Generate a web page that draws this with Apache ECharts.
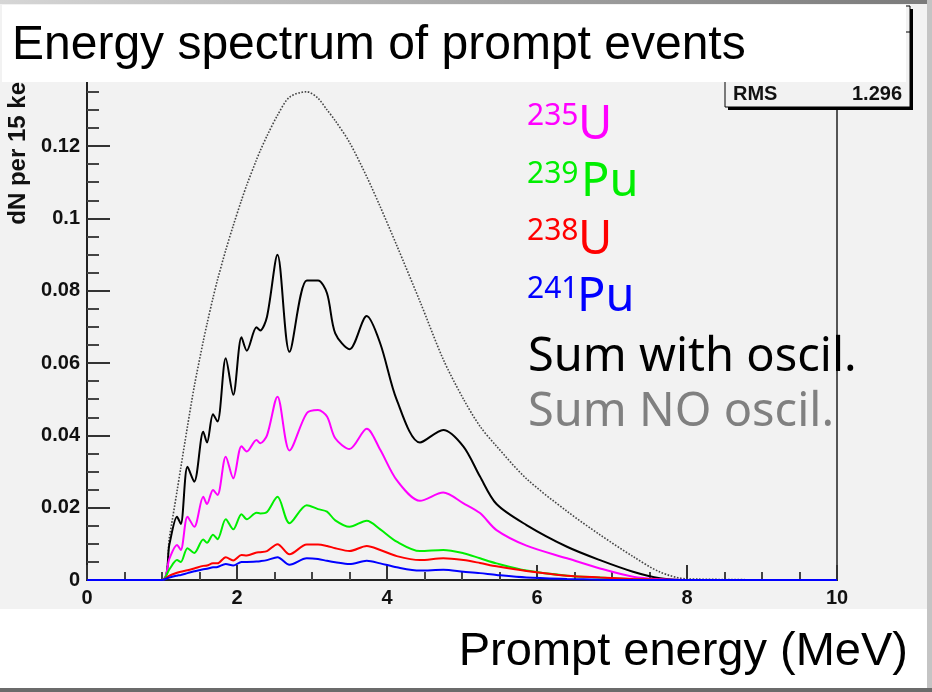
<!DOCTYPE html>
<html>
<head>
<meta charset="utf-8">
<script src="https://cdn.jsdelivr.net/npm/echarts@6/dist/echarts.min.js"></script>
<style>
html,body{margin:0;padding:0;background:#f2f2f2;}
#chart{width:932px;height:692px;}
</style>
</head>
<body>
<div id="chart"></div>
<script>
// Energy grid (MeV)
var energy = [0, 1.0, 1.1, 1.2, 1.25, 1.34, 1.43, 1.55, 1.6, 1.68, 1.74, 1.85, 1.95, 2.06, 2.13, 2.26, 2.31, 2.4, 2.54, 2.7, 2.93, 3.08, 3.2, 3.31, 3.5, 3.73, 3.91, 4.13, 4.44, 4.75, 5.02, 5.24, 5.46, 5.86, 6.4, 6.84, 7.28, 7.64, 8.0, 10];

var sumNoOscil = [0, 0, 0.012, 0.0245, 0.031, 0.0425, 0.0535, 0.066, 0.0708, 0.078, 0.083, 0.0912, 0.098, 0.105, 0.1092, 0.1162, 0.1187, 0.1228, 0.1285, 0.1335, 0.135, 0.1332, 0.130, 0.127, 0.121, 0.1115, 0.1032, 0.0925, 0.077, 0.061, 0.050, 0.0425, 0.037, 0.028, 0.019, 0.0125, 0.0065, 0.0022, 0.0003, 0];

var sumWithOscil = [0, 0, 0.010, 0.0175, 0.0155, 0.0313, 0.0272, 0.041, 0.038, 0.0458, 0.0438, 0.0613, 0.0512, 0.0671, 0.0634, 0.0699, 0.069, 0.0728, 0.0899, 0.0631, 0.0828, 0.0828, 0.0793, 0.0682, 0.0638, 0.073, 0.0654, 0.0498, 0.038, 0.0415, 0.0369, 0.0286, 0.021, 0.0152, 0.0092, 0.0055, 0.0023, 0.0005, 0, 0];

var u235 = [0, 0, 0.006, 0.0097, 0.0083, 0.0175, 0.0147, 0.023, 0.021, 0.0249, 0.0235, 0.0341, 0.0281, 0.037, 0.0355, 0.0387, 0.0378, 0.040, 0.0507, 0.0358, 0.0461, 0.047, 0.0452, 0.0392, 0.0362, 0.0418, 0.036, 0.0276, 0.0219, 0.0242, 0.0212, 0.0185, 0.0138, 0.0095, 0.006, 0.0032, 0.0009, 0.0002, 0, 0];

var pu239 = [0, 0, 0.003, 0.0055, 0.005, 0.0088, 0.0075, 0.0112, 0.0103, 0.0125, 0.0113, 0.0168, 0.014, 0.0182, 0.0168, 0.0186, 0.0184, 0.0188, 0.023, 0.0157, 0.0207, 0.0196, 0.0189, 0.0165, 0.0147, 0.0164, 0.014, 0.0106, 0.008, 0.0083, 0.0074, 0.006, 0.0046, 0.0026, 0.0012, 0.0007, 0.0002, 0, 0, 0];

var u238 = [0, 0, 0.0012, 0.002, 0.0023, 0.0027, 0.0032, 0.0039, 0.004, 0.0046, 0.0046, 0.0063, 0.0054, 0.0069, 0.0068, 0.0076, 0.0077, 0.008, 0.0099, 0.0071, 0.0098, 0.0098, 0.0094, 0.0088, 0.008, 0.0094, 0.0083, 0.0066, 0.0055, 0.006, 0.0055, 0.0047, 0.0038, 0.0025, 0.0012, 0.0007, 0.0003, 0.0001, 0, 0];

var pu241 = [0, 0, 0.0007, 0.0012, 0.0014, 0.0019, 0.0024, 0.003, 0.0031, 0.0035, 0.0036, 0.0044, 0.004, 0.005, 0.005, 0.0051, 0.0052, 0.0055, 0.0063, 0.0042, 0.006, 0.0058, 0.0053, 0.0049, 0.0044, 0.0053, 0.0046, 0.0035, 0.0026, 0.0028, 0.0023, 0.0019, 0.0014, 0.0007, 0.0003, 0.0001, 0, 0, 0, 0];

var xTicks = [0, 2, 4, 6, 8, 10];
var yTicks = [0, 0.02, 0.04, 0.06, 0.08, 0.1, 0.12, 0.14];

function pairs(vals) {
  return energy.map(function (e, i) { return [e, vals[i]]; });
}

var chart = echarts.init(document.getElementById('chart'), null, {renderer: 'canvas'});

var tickFont = {fontFamily: 'Liberation Sans', fontWeight: 'bold', fontSize: 20, color: '#111'};

function lineSeries(name, vals, color, width, type) {
  return {
    name: name, type: 'line', data: pairs(vals), showSymbol: false, smooth: 0.3,
    lineStyle: {color: color, width: width, type: type || 'solid'},
    animation: false
  };
}

var option = {
  backgroundColor: '#f2f2f2',
  animation: false,
  grid: {left: 87, right: 95, top: 73.67, bottom: 112, show: true, borderColor: '#555', borderWidth: 2, backgroundColor: 'transparent'},
  xAxis: {
    type: 'value', min: xTicks[0], max: xTicks[xTicks.length - 1], interval: 2,
    axisLine: {show: true, onZero: false, lineStyle: {color: '#222', width: 2}},
    axisTick: {show: true, inside: true, length: 15, lineStyle: {color: '#333', width: 2}},
    minorTick: {show: true, splitNumber: 4, length: 8, lineStyle: {color: '#444', width: 2}},
    splitLine: {show: false},
    axisLabel: Object.assign({margin: 8}, tickFont)
  },
  yAxis: {
    type: 'value', min: yTicks[0], max: yTicks[yTicks.length - 1], interval: 0.02,
    axisLine: {show: true, lineStyle: {color: '#222', width: 2}},
    axisTick: {show: true, inside: true, length: 23, lineStyle: {color: '#333', width: 2}},
    minorTick: {show: true, splitNumber: 4, length: 12, lineStyle: {color: '#444', width: 2}},
    splitLine: {show: false},
    axisLabel: Object.assign({margin: 7}, tickFont)
  },
  series: [
    lineSeries('Sum NO oscil.', sumNoOscil, '#444', 1.6, 'dotted'),
    lineSeries('Sum with oscil.', sumWithOscil, '#000', 2),
    lineSeries('235U', u235, '#ff00ff', 2),
    lineSeries('239Pu', pu239, '#00ee00', 2),
    lineSeries('238U', u238, '#ff0000', 2),
    lineSeries('241Pu', pu241, '#0000ff', 2)
  ],
  graphic: [
    // stats box shadow + box
    {type: 'rect', z: 100, shape: {x: 728, y: 9, width: 185, height: 101}, style: {fill: '#000'}},
    {type: 'rect', z: 101, shape: {x: 725, y: 6, width: 185, height: 101}, style: {fill: '#f2f2f2', stroke: '#000', lineWidth: 1}},
    {type: 'line', z: 102, shape: {x1: 725, y1: 32, x2: 910, y2: 32}, style: {stroke: '#000', lineWidth: 1}},
    {type: 'text', z: 102, x: 733, y: 94, style: {text: 'RMS', font: 'bold 20px "Liberation Sans"', fill: '#111', verticalAlign: 'middle', align: 'left'}},
    {type: 'text', z: 102, x: 902, y: 94, style: {text: '1.296', font: 'bold 20px "Liberation Sans"', fill: '#111', verticalAlign: 'middle', align: 'right'}},
    // y axis title
    {type: 'text', z: 103, x: 18, y: 66, rotation: Math.PI / 2, style: {text: 'dN per 15 keV', font: 'bold 24px "Liberation Sans"', fill: '#111', verticalAlign: 'middle', align: 'right'}},
    // title box
    {type: 'rect', z: 110, shape: {x: 2, y: 5, width: 904, height: 77}, style: {fill: '#ffffff'}},
    {type: 'text', z: 111, x: 12, y: 46, style: {text: 'Energy spectrum of prompt events', font: '48px "Liberation Sans"', fill: '#000', verticalAlign: 'middle', align: 'left'}},
    // bottom box
    {type: 'rect', z: 110, shape: {x: 0, y: 609, width: 927, height: 79}, style: {fill: '#ffffff'}},
    {type: 'text', z: 111, x: 908, y: 652, style: {text: 'Prompt energy (MeV)', font: '47px "Liberation Sans"', fill: '#000', verticalAlign: 'middle', align: 'right'}},
    // outer frame
    {type: 'rect', z: 120, shape: {x: 0, y: 0, width: 932, height: 4}, style: {fill: new echarts.graphic.LinearGradient(0, 0, 1, 0, [{offset: 0, color: '#d6d6d6'}, {offset: 1, color: '#7a7a7a'}])}},
    {type: 'rect', z: 120, shape: {x: 927, y: 0, width: 5, height: 692}, style: {fill: '#c4c4c4'}},
    {type: 'rect', z: 120, shape: {x: 0, y: 688, width: 932, height: 4}, style: {fill: '#6b6b6b'}},
    // legend text
    {type: 'text', z: 105, x: 527, y: 116, style: {text: '235', font: '30px "Noto Sans"', fill: '#ff00ff', verticalAlign: 'middle'}},
    {type: 'text', z: 105, x: 578, y: 126, style: {text: 'U', font: '47px "Noto Sans"', fill: '#ff00ff', verticalAlign: 'middle'}},
    {type: 'text', z: 105, x: 527, y: 174, style: {text: '239', font: '30px "Noto Sans"', fill: '#00ee00', verticalAlign: 'middle'}},
    {type: 'text', z: 105, x: 581, y: 183, style: {text: 'Pu', font: '47px "Noto Sans"', fill: '#00ee00', verticalAlign: 'middle'}},
    {type: 'text', z: 105, x: 527, y: 231, style: {text: '238', font: '30px "Noto Sans"', fill: '#ff0000', verticalAlign: 'middle'}},
    {type: 'text', z: 105, x: 578, y: 241, style: {text: 'U', font: '47px "Noto Sans"', fill: '#ff0000', verticalAlign: 'middle'}},
    {type: 'text', z: 105, x: 527, y: 289, style: {text: '241', font: '30px "Noto Sans"', fill: '#0000ff', verticalAlign: 'middle'}},
    {type: 'text', z: 105, x: 577, y: 298, style: {text: 'Pu', font: '47px "Noto Sans"', fill: '#0000ff', verticalAlign: 'middle'}},
    {type: 'text', z: 105, x: 528, y: 358, style: {text: 'Sum with oscil.', font: '47px "Noto Sans"', fill: '#000', verticalAlign: 'middle'}},
    {type: 'text', z: 105, x: 528, y: 413, style: {text: 'Sum NO oscil.', font: '47px "Noto Sans"', fill: '#808080', verticalAlign: 'middle'}}
  ]
};
chart.setOption(option);
</script>
</body>
</html>
